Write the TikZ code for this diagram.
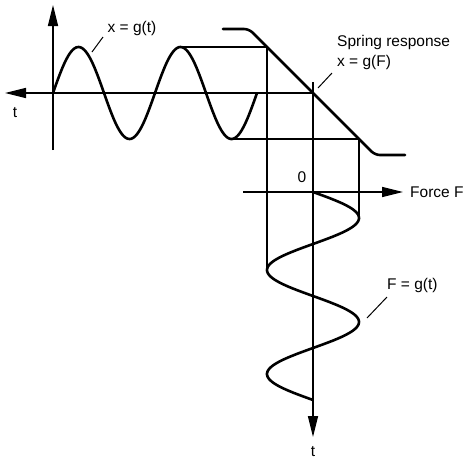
\documentclass[tikz,border=0pt]{standalone}
\usepackage{fontspec}
\setmainfont{Liberation Sans}
\usetikzlibrary{arrows.meta}
\begin{document}
\begin{tikzpicture}[x=1pt,y=-1pt,
  axis/.style={line width=1.6pt,-{Triangle[length=21pt,width=10pt]}},
  guide/.style={line width=1.3pt},
  curve/.style={line width=2.6pt,line cap=round},
  leader/.style={line width=1pt},
  lbl/.style={font=\fontsize{15.5}{18}\selectfont, inner sep=0pt}
]
\useasboundingbox (0,0) rectangle (469,461);
% key points
\coordinate (xbot) at (53,150);
\coordinate (xtop) at (53,5);
\coordinate (tleft) at (5,93);
\coordinate (S) at (313,93);
\coordinate (ttop) at (313,82);
\coordinate (tbot) at (313,437);
\coordinate (fstart) at (243,192);
\coordinate (fend) at (403,192);
\coordinate (pk) at (180.5,47);
\coordinate (dA) at (267,47);
\coordinate (vA) at (267,270);
\coordinate (tr) at (231.5,139);
\coordinate (dB) at (359,139);
\coordinate (vB) at (359,218);
% axes of x = g(t)
\draw[axis] (xbot) -- (xtop);
\draw[axis] (S) -- (tleft);
% x = g(t)
\draw[curve] plot[domain=0:2, samples=150, smooth] ({53+102*\x}, {93-46*sin(360*\x)});
% spring response
\draw[curve, rounded corners=5pt] (223,29) -- (249,29) -- (375,155) -- (405,155);
% guides
\draw[guide] (pk) -- (dA) -- (vA);
\draw[guide] (tr) -- (dB) -- (vB);
% t axis (down) and force axis
\draw[axis] (ttop) -- (tbot);
\draw[axis] (fstart) -- (fend);
% F = g(t)
\draw[curve] plot[domain=0:2, samples=150, smooth] ({313+46*sin(360*\x)}, {192+104*\x});
% leaders
\coordinate (l1a) at (92,52); \coordinate (l1b) at (103,37);
\coordinate (l2a) at (318,88); \coordinate (l2b) at (332,73);
\coordinate (l3a) at (367,318); \coordinate (l3b) at (387,297);
\draw[leader] (l1a) -- (l1b);
\draw[leader] (l2a) -- (l2b);
\draw[leader] (l3a) -- (l3b);
% labels
\node[lbl] (tl) at (15,113) {t};
\node[lbl] (xg) at (132,28) {x = g(t)};
\node[lbl, anchor=west] (sr) at (337,42) {Spring response};
\node[lbl, anchor=west] (xf) at (337,62) {x = g(F)};
\node[lbl] (zero) at (302,177) {0};
\node[lbl, anchor=west] (ff) at (410,192) {Force F};
\node[lbl, anchor=west] (fg) at (387,285) {F = g(t)};
\node[lbl] (tb) at (313,452) {t};
\end{tikzpicture}
\end{document}
